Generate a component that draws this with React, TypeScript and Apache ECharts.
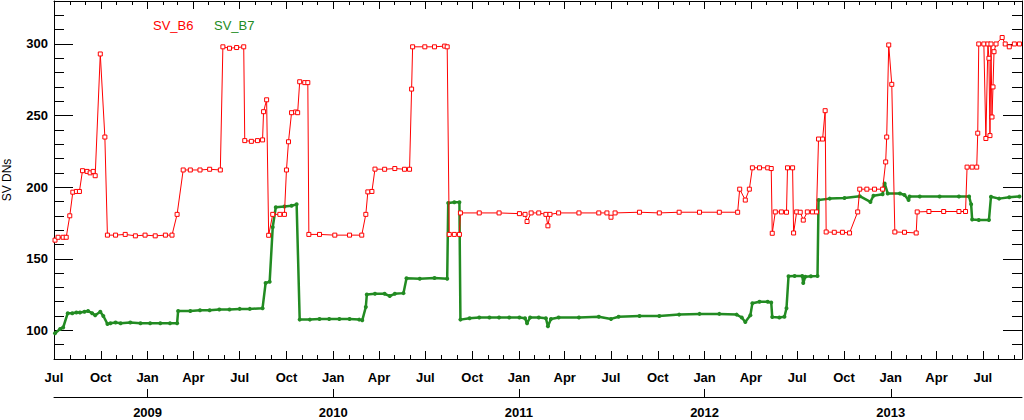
import React, { useEffect, useRef } from "react";
import * as echarts from "echarts";

const Y_MIN = 80;
const Y_MAX = 330;
const Y_MAJOR = [100, 150, 200, 250, 300];
const MONTH_NAMES = ["Jan", "Feb", "Mar", "Apr", "May", "Jun", "Jul", "Aug", "Sep", "Oct", "Nov", "Dec"];
const SERIES_NAMES = ["SV_B6", "SV_B7"];

const SV_B6: [string, number][] = [
  ["2008-07-03", 163], ["2008-07-09", 165], ["2008-07-19", 165], ["2008-07-25", 165],
  ["2008-08-01", 180], ["2008-08-07", 196.5], ["2008-08-14", 197], ["2008-08-20", 197],
  ["2008-08-26", 211.5], ["2008-09-04", 211], ["2008-09-10", 210], ["2008-09-16", 211], ["2008-09-20", 208],
  ["2008-09-30", 293], ["2008-10-09", 235], ["2008-10-14", 166.5],
  ["2008-10-30", 166.5], ["2008-11-18", 167], ["2008-12-08", 166], ["2008-12-27", 166.5], ["2009-01-16", 166], ["2009-02-05", 166.5], ["2009-02-18", 166.5],
  ["2009-02-28", 181], ["2009-03-12", 212], ["2009-03-26", 212], ["2009-04-14", 212], ["2009-05-03", 212.5], ["2009-05-24", 212],
  ["2009-05-29", 298], ["2009-06-11", 297], ["2009-06-25", 297.5], ["2009-07-09", 298],
  ["2009-07-11", 232.5], ["2009-07-24", 232], ["2009-08-05", 232.5], ["2009-08-15", 233],
  ["2009-08-17", 252.7], ["2009-08-23", 261], ["2009-08-27", 166.4],
  ["2009-09-04", 181], ["2009-09-18", 181], ["2009-09-27", 181],
  ["2009-10-01", 212], ["2009-10-05", 231.7], ["2009-10-11", 252], ["2009-10-19", 252.5], ["2009-10-23", 252],
  ["2009-10-27", 273.6], ["2009-11-06", 273], ["2009-11-12", 273],
  ["2009-11-14", 167], ["2009-12-05", 167], ["2010-01-04", 166.5], ["2010-02-02", 166.5], ["2010-02-26", 166.5],
  ["2010-03-06", 181], ["2010-03-10", 196.7], ["2010-03-18", 197], ["2010-03-24", 212.6], ["2010-04-12", 212.5], ["2010-05-02", 213], ["2010-05-21", 212.5], ["2010-05-31", 212.5],
  ["2010-06-04", 268.5], ["2010-06-06", 298], ["2010-06-30", 298], ["2010-07-19", 298], ["2010-08-08", 298.5], ["2010-08-13", 298],
  ["2010-08-17", 167], ["2010-08-27", 167], ["2010-09-06", 167],
  ["2010-09-08", 182], ["2010-10-15", 182], ["2010-11-23", 182], ["2011-01-02", 181.5], ["2011-01-13", 181], ["2011-01-17", 176], ["2011-01-25", 182],
  ["2011-02-09", 182], ["2011-02-23", 181], ["2011-02-27", 173], ["2011-03-03", 181], ["2011-03-20", 182], ["2011-04-29", 182], ["2011-06-07", 182],
  ["2011-06-23", 182], ["2011-07-01", 179], ["2011-07-09", 182], ["2011-08-26", 182.5], ["2011-10-04", 182], ["2011-11-12", 182.5], ["2011-12-22", 182.5],
  ["2012-01-30", 182.5], ["2012-03-06", 182.5],
  ["2012-03-10", 198.6], ["2012-03-21", 191], ["2012-03-29", 198.6], ["2012-04-04", 213.5], ["2012-04-18", 213.5], ["2012-05-04", 213.5], ["2012-05-11", 213],
  ["2012-05-13", 167.8], ["2012-05-19", 182.7], ["2012-05-31", 182.7], ["2012-06-10", 182.5],
  ["2012-06-12", 213.5], ["2012-06-22", 213.5], ["2012-06-24", 168], ["2012-06-30", 182.7], ["2012-07-07", 182.5], ["2012-07-13", 177], ["2012-07-21", 182.7],
  ["2012-07-31", 182.7], ["2012-08-08", 182.7],
  ["2012-08-12", 233.6], ["2012-08-20", 233.6], ["2012-08-25", 253.4], ["2012-08-27", 168.7], ["2012-09-12", 168.5], ["2012-09-28", 168.5], ["2012-10-12", 168],
  ["2012-10-28", 182.7], ["2012-11-01", 198.6], ["2012-11-15", 198.6], ["2012-11-30", 198.6], ["2012-12-16", 198.6],
  ["2012-12-22", 217.6], ["2012-12-24", 235], ["2012-12-28", 299.3], ["2013-01-03", 271.8], ["2013-01-09", 168.7], ["2013-01-28", 168.5], ["2013-02-20", 168],
  ["2013-02-22", 182.7], ["2013-03-17", 183], ["2013-04-15", 183], ["2013-05-15", 183], ["2013-05-28", 183],
  ["2013-05-31", 214], ["2013-06-10", 214], ["2013-06-19", 214],
  ["2013-06-21", 237.7], ["2013-06-23", 300], ["2013-07-03", 300], ["2013-07-07", 234], ["2013-07-11", 300], ["2013-07-13", 290], ["2013-07-15", 236],
  ["2013-07-17", 300], ["2013-07-19", 249], ["2013-07-21", 270], ["2013-07-23", 294.6], ["2013-07-27", 300], ["2013-08-08", 304.5], ["2013-08-14", 300],
  ["2013-08-22", 298], ["2013-09-01", 300], ["2013-09-11", 300],
];

const SV_B7: [string, number][] = [
  ["2008-07-03", 98], ["2008-07-13", 101], ["2008-07-19", 102], ["2008-07-28", 112], ["2008-08-06", 112], ["2008-08-14", 112.5], ["2008-08-21", 112.5],
  ["2008-08-30", 113], ["2008-09-06", 113.5], ["2008-09-14", 112], ["2008-09-20", 110.5], ["2008-09-30", 113], ["2008-10-06", 110], ["2008-10-14", 104.5],
  ["2008-10-20", 105], ["2008-10-30", 105.5], ["2008-11-09", 105], ["2008-11-28", 105.5], ["2008-12-18", 105], ["2009-01-06", 105], ["2009-01-26", 105],
  ["2009-02-14", 105], ["2009-02-28", 105],
  ["2009-03-02", 113.5], ["2009-03-26", 113.5], ["2009-04-14", 114], ["2009-05-03", 114], ["2009-05-22", 114.5], ["2009-06-11", 114.5], ["2009-07-01", 115],
  ["2009-07-21", 115], ["2009-08-15", 115.5],
  ["2009-08-21", 133], ["2009-08-29", 134], ["2009-09-04", 172], ["2009-09-10", 186], ["2009-09-27", 186.5], ["2009-10-11", 187], ["2009-10-21", 188],
  ["2009-10-27", 107.5], ["2009-11-16", 107.5], ["2009-12-05", 108], ["2009-12-24", 108], ["2010-01-13", 108], ["2010-02-02", 108], ["2010-02-21", 107.5],
  ["2010-02-27", 107],
  ["2010-03-06", 116.3], ["2010-03-08", 125], ["2010-03-24", 125.5], ["2010-04-12", 125.5], ["2010-04-22", 124], ["2010-05-02", 125.5], ["2010-05-19", 126],
  ["2010-05-25", 136.4], ["2010-06-20", 136], ["2010-07-19", 136.5], ["2010-08-13", 136],
  ["2010-08-15", 189], ["2010-08-27", 189.5], ["2010-09-06", 189.5],
  ["2010-09-08", 107.5], ["2010-09-26", 108.5], ["2010-10-15", 109], ["2010-11-04", 109], ["2010-11-23", 109], ["2010-12-13", 109], ["2011-01-02", 109],
  ["2011-01-13", 108.5], ["2011-01-17", 105], ["2011-01-23", 109], ["2011-02-09", 109], ["2011-02-23", 108.5], ["2011-02-27", 102.8], ["2011-03-05", 108],
  ["2011-03-20", 109], ["2011-04-29", 109], ["2011-06-07", 109.5], ["2011-07-01", 108], ["2011-07-16", 109.5], ["2011-08-26", 110], ["2011-10-04", 110],
  ["2011-11-12", 111], ["2011-12-22", 111.5], ["2012-01-30", 111.5], ["2012-03-04", 111],
  ["2012-03-14", 109], ["2012-03-21", 105.8], ["2012-03-31", 110.5], ["2012-04-04", 119], ["2012-04-18", 120], ["2012-05-04", 120], ["2012-05-11", 119.5],
  ["2012-05-13", 109.3], ["2012-05-27", 109], ["2012-06-06", 109.5], ["2012-06-10", 115.4], ["2012-06-14", 137.8], ["2012-06-26", 138], ["2012-07-11", 138],
  ["2012-07-13", 133], ["2012-07-17", 137.5], ["2012-07-28", 137.8], ["2012-08-10", 138],
  ["2012-08-12", 191], ["2012-09-03", 192], ["2012-10-02", 192.5], ["2012-11-01", 193.7], ["2012-11-22", 189.7], ["2012-11-28", 194], ["2012-12-16", 195],
  ["2012-12-20", 202.6], ["2012-12-26", 195.6], ["2013-01-19", 195.6], ["2013-01-28", 194.5], ["2013-02-05", 191], ["2013-02-07", 193.5], ["2013-02-27", 193.5],
  ["2013-04-07", 193.5], ["2013-05-15", 193.5], ["2013-06-04", 193.5],
  ["2013-06-08", 188], ["2013-06-10", 177.4], ["2013-06-23", 177], ["2013-07-13", 177], ["2013-07-17", 193.3], ["2013-08-02", 192], ["2013-08-22", 193],
  ["2013-09-11", 193.5],
];

const FONT = "'Liberation Sans', Arial, Helvetica, sans-serif";

function ts(d: string): number {
  const [y, m, day] = d.split("-").map(Number);
  return Date.UTC(y, m - 1, day);
}

function monthStarts(): number[] {
  const out: number[] = [];
  for (let y = 2008; y <= 2013; y++) {
    for (let m = 0; m < 12; m++) {
      if (y === 2008 && m < 6) continue;
      if (y === 2013 && m > 8) continue;
      out.push(Date.UTC(y, m, 1));
    }
  }
  return out;
}

export default function App() {
  const ref = useRef<HTMLDivElement>(null);
  useEffect(() => {
    if (!ref.current) return;
    const chart = echarts.init(ref.current, null, { renderer: "svg" });
    const months = monthStarts();
    const quarters = months.filter((t) => new Date(t).getUTCMonth() % 3 === 0);
    const jans = months.filter((t) => new Date(t).getUTCMonth() === 0);
    const yMinor: number[] = [];
    for (let v = Y_MIN; v <= Y_MAX; v += 10) yMinor.push(v);
    const xMin = Date.UTC(2008, 6, 1);
    const xMax = Date.UTC(2013, 8, 16);
    const line = { show: true, lineStyle: { color: "#000", width: 1 } };
    const noLabel = { show: false };
    const baseX = { type: "value", min: xMin, max: xMax, splitLine: { show: false }, gridIndex: 0, scale: true };
    const baseY = { type: "value", min: Y_MIN, max: Y_MAX, splitLine: { show: false }, gridIndex: 0 };
    const tick = (vals: number[], len: number) => ({
      show: true, inside: true, length: len, customValues: vals, lineStyle: { color: "#000", width: 1 },
    });
    chart.setOption({
      animation: false,
      backgroundColor: "#fff",
      grid: { left: 54, right: 2, top: 1, height: 358, containLabel: false, outerBoundsMode: "none" },
      xAxis: [
        {
          ...baseX, position: "bottom", axisLine: line, axisTick: tick(quarters, 8),
          axisLabel: {
            show: true, customValues: quarters, margin: 12, color: "#000", fontSize: 13, fontWeight: "bold", fontFamily: FONT,
            formatter: (v: number) => MONTH_NAMES[new Date(v).getUTCMonth()],
          },
        },
        { ...baseX, position: "bottom", axisLine: { show: false }, axisTick: tick(months, 4), axisLabel: noLabel },
        { ...baseX, position: "top", axisLine: line, axisTick: tick(quarters, 8), axisLabel: noLabel },
        { ...baseX, position: "top", axisLine: { show: false }, axisTick: tick(months, 4), axisLabel: noLabel },
        {
          ...baseX, position: "bottom", offset: 38, axisLine: line, axisTick: tick(jans, 8),
          axisLabel: {
            show: true, customValues: jans, margin: 9, color: "#000", fontSize: 13, fontWeight: "bold", fontFamily: FONT,
            formatter: (v: number) => String(new Date(v).getUTCFullYear()),
          },
        },
      ],
      yAxis: [
        {
          ...baseY, position: "left", axisLine: line, axisTick: tick(Y_MAJOR, 19),
          axisLabel: { show: true, customValues: Y_MAJOR, margin: 6, color: "#000", fontSize: 13, fontWeight: "bold", fontFamily: FONT },
          name: "SV DNs", nameLocation: "middle", nameRotate: 90, nameGap: 41,
          nameTextStyle: { color: "#000", fontSize: 12, fontFamily: FONT },
        },
        { ...baseY, position: "left", axisLine: { show: false }, axisTick: tick(yMinor, 10), axisLabel: noLabel },
        { ...baseY, position: "right", axisLine: line, axisTick: tick(Y_MAJOR, 19), axisLabel: noLabel },
        { ...baseY, position: "right", axisLine: { show: false }, axisTick: tick(yMinor, 10), axisLabel: noLabel },
      ],
      series: [
        {
          name: SERIES_NAMES[0], type: "line", xAxisIndex: 0, yAxisIndex: 0,
          data: SV_B6.map(([d, v]) => [ts(d), v]),
          symbol: "rect", symbolSize: 4, showAllSymbol: true,
          lineStyle: { color: "#ff0000", width: 1 },
          itemStyle: { color: "#fff", borderColor: "#ff0000", borderWidth: 1 },
          z: 3,
        },
        {
          name: SERIES_NAMES[1], type: "line", xAxisIndex: 0, yAxisIndex: 0,
          data: SV_B7.map(([d, v]) => [ts(d), v]),
          symbol: "circle", symbolSize: 4, showAllSymbol: true,
          lineStyle: { color: "#228b22", width: 2.5 },
          itemStyle: { color: "#228b22" },
          z: 2,
        },
      ],
      graphic: [
        { type: "text", left: 153, top: 19, style: { text: SERIES_NAMES[0], fill: "#ff0000", fontSize: 13, fontFamily: FONT } },
        { type: "text", left: 214, top: 19, style: { text: SERIES_NAMES[1], fill: "#228b22", fontSize: 13, fontFamily: FONT } },
      ],
    });
    return () => chart.dispose();
  }, []);
  return <div ref={ref} style={{ position: "fixed", left: 0, top: 0, width: 1024, height: 420, background: "#fff" }} />;
}
